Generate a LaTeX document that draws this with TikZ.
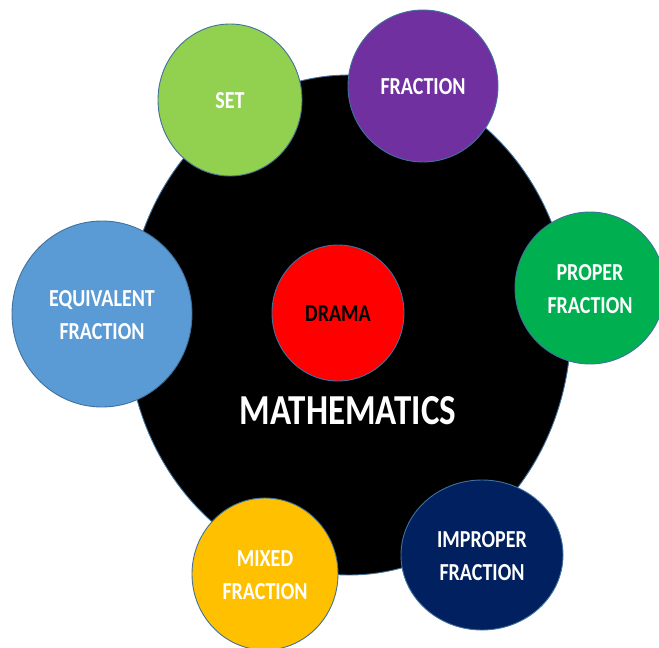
\documentclass[tikz,border=0pt]{standalone}
\usepackage{fontspec}
\setmainfont{Carlito}
\usetikzlibrary{shapes.geometric}

\definecolor{edgeblue}{HTML}{41719C}
\definecolor{setgreen}{HTML}{92D050}
\definecolor{fracpurple}{HTML}{7030A0}
\definecolor{propergreen}{HTML}{00B050}
\definecolor{equivblue}{HTML}{5B9BD5}
\definecolor{mixedgold}{HTML}{FFC000}
\definecolor{impropernavy}{HTML}{002060}
\definecolor{dramared}{HTML}{FF0000}

% labels are set a little taller than wide and sit slightly low in their disc
\newcommand{\talllabel}[2][-2.5pt]{\raisebox{#1}[\height][\depth]{\scalebox{1}[1.22]{\begin{tabular}{@{}c@{}}#2\end{tabular}}}}

\tikzset{
  bubble/.style={ellipse, draw=edgeblue, line width=0.9pt, inner sep=0pt,
    text=white, font=\fontsize{20}{26.5}\selectfont\bfseries},
}

\begin{document}
\begin{tikzpicture}[x=1pt, y=-1pt]
  \useasboundingbox (0,0) rectangle (659,648);
  \clip (0,0) rectangle (659,648);

  % central disc
  \node[bubble, fill=black, minimum width=444pt, minimum height=500pt] (hub) at (349,325) {};
  \node[text=white, font=\fontsize{35}{40}\selectfont\bfseries] (title) at (348,410) {\talllabel[-4.5pt]{MATHEMATICS}};
  \node[bubble, fill=dramared, text=black, minimum width=132pt, minimum height=136pt] (drama) at (338,313) {\talllabel{DRAMA}};

  % surrounding topics
  \node[bubble, fill=setgreen, minimum width=144pt, minimum height=152pt] (set) at (230,100) {\talllabel{SET}};
  \node[bubble, fill=fracpurple, minimum width=150pt, minimum height=152pt] (fraction) at (423,86) {\talllabel{FRACTION}};
  \node[bubble, fill=propergreen, minimum width=150pt, minimum height=152pt] (proper) at (590,288) {\talllabel{PROPER\\FRACTION}};
  \node[bubble, fill=equivblue, minimum width=180pt, minimum height=186pt] (equiv) at (102,314) {\talllabel{EQUIVALENT\\FRACTION}};
  \node[bubble, fill=mixedgold, minimum width=146pt, minimum height=152pt] (mixed) at (265,574) {\talllabel{MIXED\\FRACTION}};
  \node[bubble, fill=impropernavy, minimum width=162pt, minimum height=150pt] (improper) at (482,555) {\talllabel{IMPROPER\\FRACTION}};
\end{tikzpicture}
\end{document}
